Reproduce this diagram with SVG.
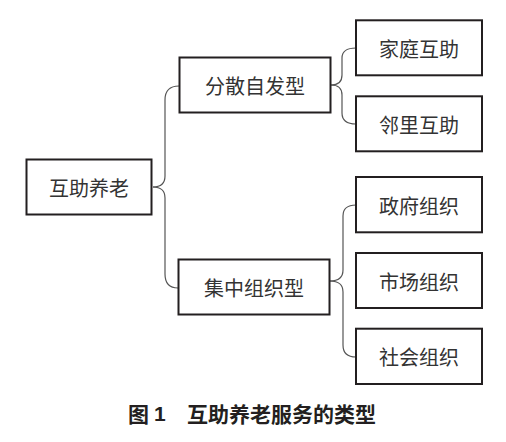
<svg xmlns="http://www.w3.org/2000/svg" width="506" height="442" viewBox="0 0 506 442">
<style>
.box{fill:#fff;stroke:#231f20;stroke-width:2}
.lbl{font-family:"Noto Sans CJK SC","Noto Sans",sans-serif;font-size:20px;fill:#333;text-anchor:middle;dominant-baseline:central}
.con{fill:none;stroke:#555;stroke-width:1.2}
.cap{font-family:"Noto Sans CJK SC","Liberation Sans",sans-serif;font-size:21px;font-weight:bold;fill:#231f20;dominant-baseline:central}
</style>
<rect width="506" height="442" fill="#fff"/>
<g id="connectors">
<path class="con" d="M153,187 Q165,187 165,176 V100 Q165,86 179,86"/>
<path class="con" d="M153,187 Q165,187 165,198 V274 Q165,288 178,288"/>
<path class="con" d="M331,85 Q342,85 342,75 V58 Q342,48 356,48"/>
<path class="con" d="M331,85 Q342,85 342,95 V113 Q342,124 356,124"/>
<path class="con" d="M330,281 Q343,281 343,270 V216 Q343,205 356,205"/>
<path class="con" d="M330,281 Q343,281 343,292 V345 Q343,357 356,357"/>
</g>
<g id="root"><rect class="box" x="26.5" y="159.5" width="125" height="55"/><text class="lbl" x="89" y="187.5">互助养老</text></g>
<g id="fensan"><rect class="box" x="179.5" y="57.5" width="151" height="55"/><text class="lbl" x="255" y="85">分散自发型</text></g>
<g id="jizhong"><rect class="box" x="178.5" y="259.5" width="151" height="55"/><text class="lbl" x="254" y="287">集中组织型</text></g>
<g id="jiating"><rect class="box" x="356" y="20.3" width="126" height="55"/><text class="lbl" x="419" y="48">家庭互助</text></g>
<g id="linli"><rect class="box" x="356" y="96.3" width="126" height="55"/><text class="lbl" x="419" y="124">邻里互助</text></g>
<g id="zhengfu"><rect class="box" x="356" y="177" width="126" height="55.3"/><text class="lbl" x="419" y="205">政府组织</text></g>
<g id="shichang"><rect class="box" x="356" y="253" width="126" height="55"/><text class="lbl" x="419" y="281">市场组织</text></g>
<g id="shehui"><rect class="box" x="356" y="328.7" width="126" height="55.3"/><text class="lbl" x="419" y="356.5">社会组织</text></g>
<g id="caption">
<text class="cap" x="128" y="413">图</text>
<text class="cap" x="154" y="413" style="font-family:'Liberation Sans',sans-serif">1</text>
<text class="cap" x="187" y="413">互助养老服务的类型</text>
</g>
</svg>
